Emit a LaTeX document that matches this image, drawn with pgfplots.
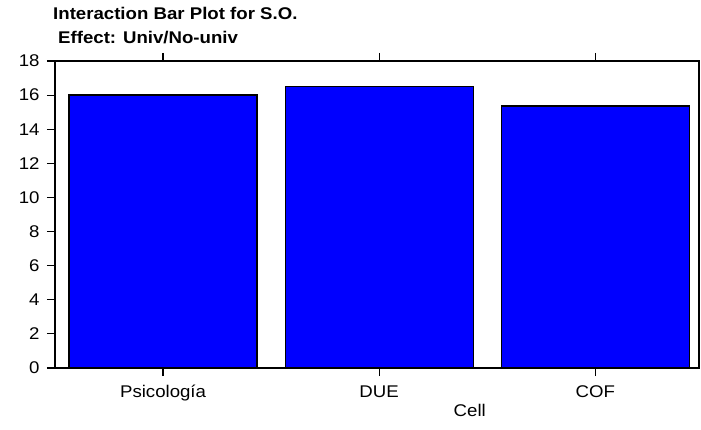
\documentclass[border=0pt]{standalone}
\usepackage{fontspec}
\setmainfont{Liberation Sans}[FakeStretch=1.1]
\usepackage{pgfplots}
\pgfplotsset{compat=1.18}
\definecolor{barblue}{RGB}{0,0,255}

\begin{document}
\begin{tikzpicture}
  \useasboundingbox (0,0) rectangle (701bp,430bp);
  \node[anchor=base west, inner sep=0pt, font=\fontsize{17}{19}\selectfont\bfseries] at (53bp,410bp) {Interaction Bar Plot for S.O.};
  \node[anchor=base west, inner sep=0pt, font=\fontsize{17}{19}\selectfont\bfseries] at (58bp,386bp) {Effect: Univ/No-univ};
  \begin{axis}[
    at={(55bp,62bp)}, anchor=south west,
    scale only axis, width=644bp, height=307bp,
    xmin=-0.5, xmax=2.48, ymin=0, ymax=18,
    xtick={0,1,2}, xticklabels={Psicología,DUE,COF},
    ytick={0,2,...,18},
    ytick pos=left, xtick pos=both,
    tick align=outside,
    major tick length=8bp,
    axis line style={line width=1.7pt},
    every tick/.style={black, line width=1.2pt},
    tick label style={font=\fontsize{17}{19}\selectfont},
    /pgf/number format/assume math mode=true,
    xticklabel style={yshift=-6bp},
    yticklabel style={xshift=-4bp},
    xlabel={Cell},
    xlabel style={font=\fontsize{17}{19}\selectfont, at={(axis description cs:0.644,0)}, anchor=center, yshift=-42bp},
    ]
    \addplot[ybar, bar width=188bp, fill=barblue, draw=black, line width=1.3pt]
      coordinates {(0,16.0) (1,16.52) (2,15.36)};
  \end{axis}
\end{tikzpicture}
\end{document}
